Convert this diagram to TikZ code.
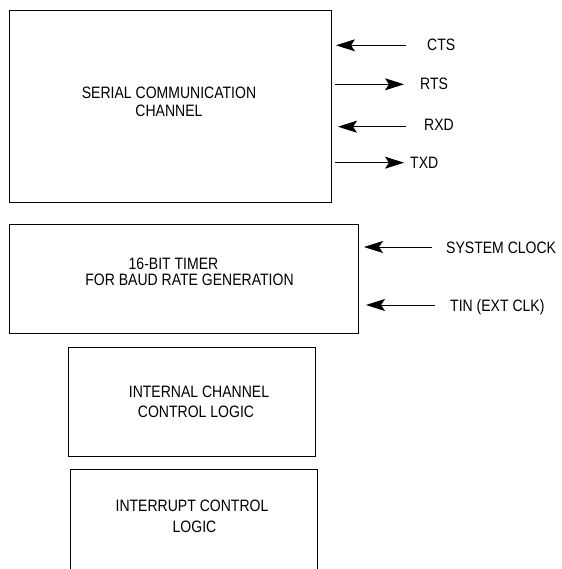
\documentclass[tikz,border=0pt]{standalone}
\usepackage{fontspec}
\setmainfont{Liberation Sans}[FakeStretch=0.85]
\usetikzlibrary{arrows.meta}
\begin{document}
\begin{tikzpicture}[x=1pt,y=-1pt,
  txt/.style={inner sep=0pt,anchor=base,font=\fontsize{16.5}{20}\selectfont},
  lbl/.style={inner sep=0pt,anchor=base west,font=\fontsize{16.5}{20}\selectfont},
  boxline/.style={line width=0.9pt},
  arr/.style={line width=0.8pt,-{Stealth[length=19pt,width=12pt,inset=4pt]}}]
\useasboundingbox (0,0) rectangle (561,569);
% boxes
\coordinate (b1a) at (9,10.5);   \coordinate (b1b) at (331,202);
\coordinate (b2a) at (9,224);    \coordinate (b2b) at (358.5,333);
\coordinate (b3a) at (68,347.5); \coordinate (b3b) at (315.7,456.5);
\draw[boxline] (b1a) rectangle (b1b);
\draw[boxline] (b2a) rectangle (b2b);
\draw[boxline] (b3a) rectangle (b3b);
\draw[boxline] (70,569) -- (70,469) -- (317,469) -- (317,569);
% box texts
\node[txt] (t1a) at (169,98.4) {SERIAL COMMUNICATION};
\node[txt] (t1b) at (169,117) {CHANNEL};
\node[txt] (t2a) at (173.5,269) {16-BIT TIMER};
\node[txt] (t2b) at (189.5,285) {FOR BAUD RATE GENERATION};
\node[txt] (t3a) at (199,397) {INTERNAL CHANNEL};
\node[txt] (t3b) at (196,417) {CONTROL LOGIC};
\node[txt] (t4a) at (192,511.5) {INTERRUPT CONTROL};
\node[txt] (t4b) at (194.5,532) {LOGIC};
% signal labels
\node[lbl] (cts) at (427,51) {CTS};
\node[lbl] (rts) at (420,90) {RTS};
\node[lbl] (rxd) at (424,131) {RXD};
\node[lbl] (txd) at (410,168.5) {TXD};
\node[lbl] (clk) at (446,253.5) {SYSTEM CLOCK};
\node[lbl] (tin) at (450,311.5) {TIN (EXT CLK)};
% arrow end points
\coordinate (ctsS) at (406,45.3);  \coordinate (ctsE) at (336,45.3);
\coordinate (rtsS) at (335,84.3);  \coordinate (rtsE) at (404,84.3);
\coordinate (rxdS) at (406,126.7); \coordinate (rxdE) at (338,126.7);
\coordinate (txdS) at (335,162.7); \coordinate (txdE) at (404,162.7);
\coordinate (clkS) at (432,247);   \coordinate (clkE) at (364,247);
\coordinate (tinS) at (435,305);   \coordinate (tinE) at (366,305);
\draw[arr] (ctsS) -- (ctsE);
\draw[arr] (rtsS) -- (rtsE);
\draw[arr] (rxdS) -- (rxdE);
\draw[arr] (txdS) -- (txdE);
\draw[arr] (clkS) -- (clkE);
\draw[arr] (tinS) -- (tinE);
\end{tikzpicture}
\end{document}
